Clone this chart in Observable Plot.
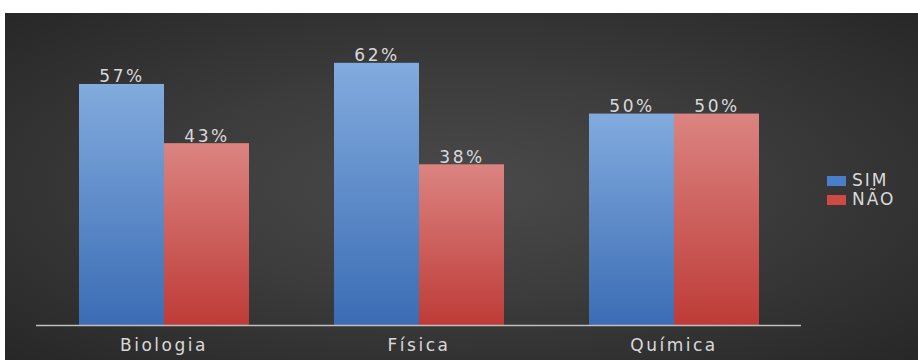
<!DOCTYPE html>
<html>
<head>
<meta charset="utf-8">
<script src="https://cdn.jsdelivr.net/npm/d3@7"></script>
<script src="https://cdn.jsdelivr.net/npm/@observablehq/plot@0.6"></script>
<style>
  html, body { margin: 0; padding: 0; background: #fff; }
  #wrap { position: relative; width: 918px; height: 360px; background: #fff; overflow: hidden; }
  #panel { position: absolute; left: 5px; top: 13px; width: 913px; height: 347px;
    background: radial-gradient(ellipse at 50% 50%, #4a4a4a 0%, #3c3c3c 45%, #272727 100%); }
  #legend { position: absolute; left: 827px; top: 171px; font-family: "DejaVu Sans", sans-serif;
    font-size: 17px; letter-spacing: 2px; color: #d9d9d9; line-height: 19px; }
  #legend .row { display: flex; align-items: center; height: 19px; }
  #legend .sw { width: 19px; height: 10px; margin-right: 6px; }
</style>
</head>
<body>
<div id="wrap"><div id="panel"></div></div>
<script>
const categories = ["Biologia", "Física", "Química"];
const series = ["SIM", "NÃO"];
const sim = [57, 62, 50];
const nao = [43, 38, 50];
const seriesColors = ["#4a7ecb", "#d04a45"];

const rows = categories.flatMap((c, i) => [
  {cat: c, series: series[0], value: sim[i]},
  {cat: c, series: series[1], value: nao[i]}
]);

const chart = Plot.plot({
  width: 913,
  height: 347,
  marginLeft: 30,
  marginRight: 116,
  marginTop: 16,
  marginBottom: 35,
  style: {background: "transparent", color: "#d9d9d9", fontFamily: "DejaVu Sans, sans-serif", fontSize: "17px", letterSpacing: "2.5px"},
  fx: {domain: categories, paddingInner: 0, paddingOuter: 0, label: null, axis: "bottom", tickSize: 0, tickPadding: 13},
  x: {domain: series, paddingInner: 0, paddingOuter: 0.5, axis: null},
  y: {domain: [0, 70], axis: null},
  marks: [
    Plot.barY(rows.filter(d => d.series === "SIM"), {fx: "cat", x: "series", y: "value", fill: "url(#gSIM)"}),
    Plot.barY(rows.filter(d => d.series === "NÃO"), {fx: "cat", x: "series", y: "value", fill: "url(#gNAO)"}),
    Plot.ruleY([0], {stroke: "#bfbfbf", strokeWidth: 1.5}),
    Plot.text(rows, {fx: "cat", x: "series", y: "value", text: d => d.value + "%", lineAnchor: "bottom", dy: -2, fill: "#d9d9d9", fontSize: 17})
  ]
});

const svg = d3.select(chart);
const defs = svg.insert("defs", ":first-child");
const grads = [
  {id: "gSIM", top: "#82abde", bottom: "#3b6cb4"},
  {id: "gNAO", top: "#db8481", bottom: "#be3b37"}
];
for (const g of grads) {
  const lg = defs.append("linearGradient").attr("id", g.id).attr("x1", 0).attr("y1", 0).attr("x2", 0).attr("y2", 1);
  lg.append("stop").attr("offset", "0%").attr("stop-color", g.top);
  lg.append("stop").attr("offset", "100%").attr("stop-color", g.bottom);
}

document.getElementById("panel").appendChild(chart);

const legend = document.createElement("div");
legend.id = "legend";
series.forEach((s, i) => {
  const row = document.createElement("div");
  row.className = "row";
  const sw = document.createElement("span");
  sw.className = "sw";
  sw.style.background = seriesColors[i];
  const t = document.createElement("span");
  t.textContent = s;
  row.appendChild(sw);
  row.appendChild(t);
  legend.appendChild(row);
});
document.getElementById("wrap").appendChild(legend);
</script>
</body>
</html>
